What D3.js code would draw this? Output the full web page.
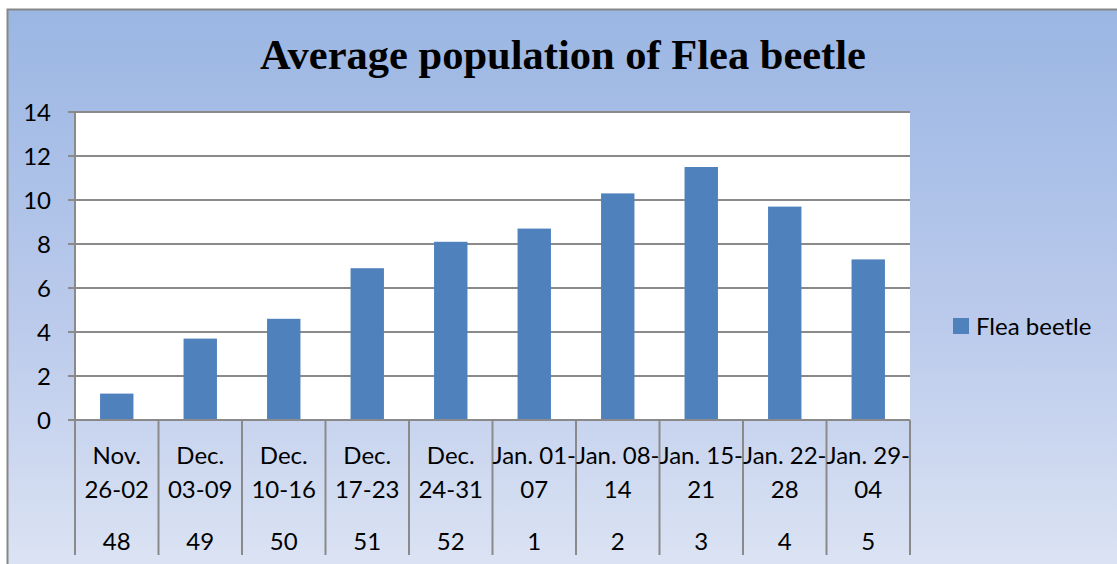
<!DOCTYPE html>
<html>
<head>
<meta charset="utf-8">
<script src="https://cdn.jsdelivr.net/npm/d3@7"></script>
<style>
  html, body { margin: 0; padding: 0; background: #ffffff; overflow: hidden; }
  svg { display: block; }
</style>
</head>
<body>
<svg id="chart" width="1117" height="564"></svg>
<script>
// ---- data ----
const title = "Average population of Flea beetle";
const seriesName = "Flea beetle";
const periodLine1 = ["Nov.", "Dec.", "Dec.", "Dec.", "Dec.", "Jan. 01-", "Jan. 08-", "Jan. 15-", "Jan. 22-", "Jan. 29-"];
const periodLine2 = ["26-02", "03-09", "10-16", "17-23", "24-31", "07", "14", "21", "28", "04"];
const weeks = ["48", "49", "50", "51", "52", "1", "2", "3", "4", "5"];
const values = [1.2, 3.7, 4.6, 6.9, 8.1, 8.7, 10.3, 11.5, 9.7, 7.3];
const yTicks = [0, 2, 4, 6, 8, 10, 12, 14];

// ---- layout ----
const svg = d3.select("#chart");
const W = 1117, H = 564;
const plot = { left: 75, right: 910, top: 112, bottom: 420 };
const labelFont = "Lato, 'Liberation Sans', Arial, sans-serif";
const labelSize = 24;
const gridColor = "#8a8a8a";

const defs = svg.append("defs");
const grad = defs.append("linearGradient").attr("id", "bg")
  .attr("x1", 0).attr("y1", 0).attr("x2", 0).attr("y2", 1);
grad.append("stop").attr("offset", "0%").attr("stop-color", "#9ab6e3");
grad.append("stop").attr("offset", "55%").attr("stop-color", "#bccbec");
grad.append("stop").attr("offset", "100%").attr("stop-color", "#dfe6f4");

// chart frame
svg.append("rect").attr("x", 0).attr("y", 0).attr("width", W).attr("height", H).attr("fill", "#ffffff");
svg.append("rect").attr("x", 7.5).attr("y", 9.5).attr("width", W + 20).attr("height", H + 20)
  .attr("fill", "url(#bg)").attr("stroke", "#878787").attr("stroke-width", 2);

// scales
const x = d3.scaleBand().domain(d3.range(values.length))
  .range([plot.left, plot.right]).paddingInner(0.6).paddingOuter(0.3);
const xOuter = d3.scaleBand().domain(d3.range(values.length))
  .range([plot.left, plot.right]).padding(0);
const y = d3.scaleLinear().domain([0, 14]).range([plot.bottom, plot.top]);

// plot area
svg.append("rect").attr("x", plot.left).attr("y", plot.top)
  .attr("width", plot.right - plot.left).attr("height", plot.bottom - plot.top)
  .attr("fill", "#ffffff");

// gridlines
svg.append("g").selectAll("line").data(yTicks.filter(d => d > 0)).join("line")
  .attr("x1", plot.left - 7).attr("x2", plot.right)
  .attr("y1", d => y(d)).attr("y2", d => y(d))
  .attr("stroke", gridColor).attr("stroke-width", 2);

// bars
svg.append("g").selectAll("rect").data(values).join("rect")
  .attr("x", (d, i) => x(i)).attr("width", x.bandwidth())
  .attr("y", d => y(d)).attr("height", d => y(0) - y(d))
  .attr("fill", "#4f81bd");

// y axis line + labels
svg.append("line").attr("x1", plot.left).attr("x2", plot.left)
  .attr("y1", plot.top).attr("y2", 555)
  .attr("stroke", gridColor).attr("stroke-width", 2);
svg.append("line").attr("x1", plot.left - 7).attr("x2", plot.right)
  .attr("y1", y(0)).attr("y2", y(0))
  .attr("stroke", gridColor).attr("stroke-width", 2);
svg.append("g").selectAll("text").data(yTicks).join("text")
  .attr("x", 51).attr("y", d => y(d)).attr("dy", "0.36em")
  .attr("text-anchor", "end").attr("font-family", labelFont).attr("font-size", labelSize)
  .attr("fill", "#000").text(d => d);

// category separators
const bounds = d3.range(values.length + 1).map(i => i < values.length ? xOuter(i) : plot.right);
svg.append("g").selectAll("line").data(bounds.slice(1)).join("line")
  .attr("x1", d => d).attr("x2", d => d)
  .attr("y1", plot.bottom).attr("y2", 555)
  .attr("stroke", gridColor).attr("stroke-width", 2);

// category labels
const cat = svg.append("g").attr("font-family", labelFont).attr("font-size", labelSize)
  .attr("text-anchor", "middle").attr("fill", "#000");
cat.selectAll("text.l1").data(periodLine1).join("text").attr("class", "l1")
  .attr("x", (d, i) => xOuter(i) + xOuter.bandwidth() / 2).attr("y", 464).text(d => d);
cat.selectAll("text.l2").data(periodLine2).join("text").attr("class", "l2")
  .attr("x", (d, i) => xOuter(i) + xOuter.bandwidth() / 2).attr("y", 498).text(d => d);
cat.selectAll("text.wk").data(weeks).join("text").attr("class", "wk")
  .attr("x", (d, i) => xOuter(i) + xOuter.bandwidth() / 2).attr("y", 550).text(d => d);

// title
svg.append("text").attr("x", 563).attr("y", 69).attr("text-anchor", "middle")
  .attr("font-family", "'Liberation Serif', 'Times New Roman', serif")
  .attr("font-weight", "bold").attr("font-size", 42.5).attr("fill", "#000").text(title);

// legend
svg.append("rect").attr("x", 953).attr("y", 318).attr("width", 16).attr("height", 16).attr("fill", "#4f81bd");
svg.append("text").attr("x", 976).attr("y", 326).attr("dy", "0.36em")
  .attr("font-family", labelFont).attr("font-size", labelSize).attr("fill", "#000").text(seriesName);
</script>
</body>
</html>
